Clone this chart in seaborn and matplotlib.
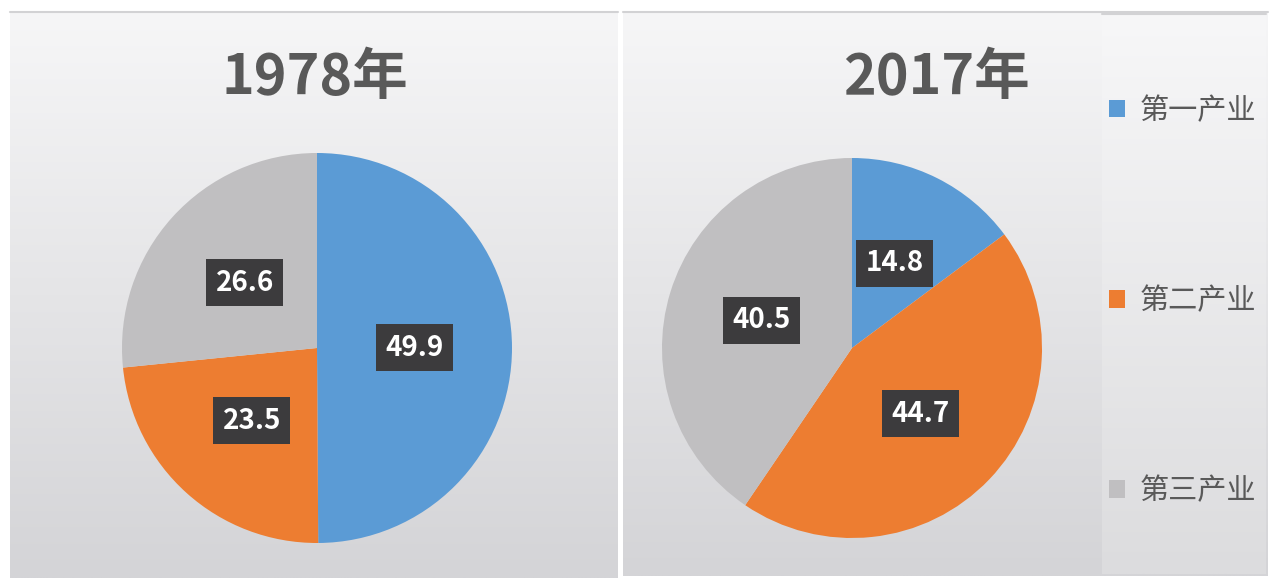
import numpy as np
import matplotlib
matplotlib.use("Agg")
import matplotlib.pyplot as plt
import seaborn as sns

# data
sectors = ["第一产业", "第二产业", "第三产业"]
years = ["1978年", "2017年"]
share_1978 = [49.9, 23.5, 26.6]
share_2017 = [14.8, 44.7, 40.5]

sns.set_theme(style="white")
plt.rcParams['font.family'] = ['Noto Sans CJK SC', 'DejaVu Sans']
colors = sns.color_palette(["#5B9BD5", "#ED7D31", "#C0BFC1"])

W, H = 1280, 588
fig = plt.figure(figsize=(W / 100, H / 100), dpi=100)
fig.patch.set_facecolor("white")

# background panels drawn in pixel coords
bg = fig.add_axes([0, 0, 1, 1])
bg.set_xlim(0, W)
bg.set_ylim(H, 0)
bg.axis("off")


def panel(x0, x1, y0, y1, top, bottom):
    g = np.linspace(0, 1, 256)[:, None]
    top = np.array(matplotlib.colors.to_rgb(top))
    bottom = np.array(matplotlib.colors.to_rgb(bottom))
    img = top[None, None, :] * (1 - g[..., None]) + bottom[None, None, :] * g[..., None]
    img = np.repeat(img, 2, axis=1)
    bg.imshow(img, extent=(x0, x1, y1, y0), aspect="auto", interpolation="bilinear", zorder=0)
    bg.plot([x0, x1], [y0, y0], color="#d2d2d4", lw=1.5, zorder=1)


panel(10, 618, 12, 578, "#f6f6f7", "#d4d4d7")
panel(623, 1268, 12, 576, "#f6f6f7", "#d4d4d7")
panel(1102, 1266, 14, 574, "#f7f7f8", "#dcdcde")


def draw_pie(rect, values, title, title_x):
    ax = fig.add_axes(rect)
    wedges, _, autotexts = ax.pie(
        values, colors=colors, startangle=90, counterclock=False,
        autopct=lambda p: f"{p:.1f}", pctdistance=0.5,
        wedgeprops=dict(linewidth=0),
    )
    for t in autotexts:
        t.set_color("white")
        t.set_fontsize(20)
        t.set_fontweight("bold")
        t.set_bbox(dict(boxstyle="square,pad=0.34", facecolor="#3c3b3d",
                        edgecolor="none"))
    ax.set_xlim(-1, 1)
    ax.set_ylim(-1, 1)
    ax.set_aspect("equal")
    ax.axis("off")
    fig.text(title_x / W, 1 - 78 / H, title, ha="center", va="center",
             fontsize=40, fontweight="bold", color="#595959")
    return wedges


wedges = draw_pie([122 / W, 45 / H, 390 / W, 390 / H], share_1978, years[0], 315)
draw_pie([662 / W, 50 / H, 380 / W, 380 / H], share_2017, years[1], 936)

leg = fig.legend(wedges, sectors, loc="upper left",
                 bbox_to_anchor=(1097 / W, 1 - 84 / H), frameon=False,
                 fontsize=21, labelcolor="#595959", handlelength=0.55,
                 handleheight=0.55, handletextpad=0.5, labelspacing=5.5,
                 borderaxespad=0)

fig.savefig("out.png", dpi=100, facecolor="white")
